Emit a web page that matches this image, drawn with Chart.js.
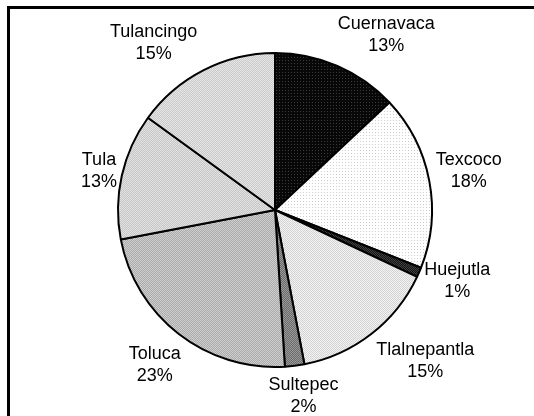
<!DOCTYPE html>
<html>
<head>
<meta charset="utf-8">
<script src="https://cdn.jsdelivr.net/npm/chart.js@4.4.1/dist/chart.umd.min.js"></script>
<style>
  html, body { margin: 0; padding: 0; background: #fff; }
  #wrap { position: relative; width: 534px; height: 416px; }
  #frame { position: absolute; left: 7px; top: 6px; right: -10px; bottom: -10px;
           border-left: 3px solid #000; border-top: 3px solid #000; }
  canvas { position: absolute; left: 0; top: 0; }
</style>
</head>
<body>
<div id="wrap">
  <div id="frame"></div>
  <canvas id="chartMunicipios" width="534" height="416"></canvas>
</div>
<script>
const municipios = ['Cuernavaca', 'Texcoco', 'Huejutla', 'Tlalnepantla', 'Sultepec', 'Toluca', 'Tula', 'Tulancingo'];
const porcentajes = [13, 18, 1, 15, 2, 23, 13, 15];

// tramas de puntos para cada rebanada: [fondo, punto, paso]
const tramas = [
    ['#080808', '#3a3a3a', 3],
    ['#ffffff', '#cfcfcf', 3],
    ['#151515', '#404040', 2],
    ['#f2f2f2', '#d4d4d4', 2],
    ['#6a6a6a', '#9a9a9a', 2],
    ['#a9a9a9', '#d0d0d0', 2],
    ['#c6c6c6', '#e2e2e2', 2],
    ['#cacaca', '#e6e6e6', 2]
];
// pequeño giro (grados) y ajuste radial (px) de algunas etiquetas
const giroEtiqueta = [9, -0.5, -2, -7, -1.5, 0, 0, -9];
const ajusteRadial = [0, -2, -6, 0, -2, 0, -5, 0];

function trama(fondo, punto, paso) {
    const c = document.createElement('canvas');
    c.width = paso; c.height = paso;
    const ctx = c.getContext('2d');
    ctx.fillStyle = fondo;
    ctx.fillRect(0, 0, paso, paso);
    ctx.fillStyle = punto;
    ctx.fillRect(0, 0, 1, 1);
    if (paso === 2) ctx.fillRect(1, 1, 1, 1);
    return ctx.createPattern(c, 'repeat');
}

const etiquetas = {
    id: 'etiquetas',
    afterDatasetsDraw(chart) {
        const ctx = chart.ctx;
        const meta = chart.getDatasetMeta(0);
        ctx.save();
        ctx.font = '18px "Liberation Sans", Arial, sans-serif';
        ctx.fillStyle = '#000';
        ctx.textAlign = 'center';
        ctx.textBaseline = 'middle';
        const lh = 22;
        meta.data.forEach((arc, i) => {
            const p = arc.getProps(['x', 'y', 'startAngle', 'endAngle', 'outerRadius'], true);
            const ang = (p.startAngle + p.endAngle) / 2 + giroEtiqueta[i] * Math.PI / 180;
            const lineas = [municipios[i], porcentajes[i] + '%'];
            const w = Math.max(...lineas.map(t => ctx.measureText(t).width));
            const h = lh * 2;
            const ux = Math.cos(ang), uy = Math.sin(ang);
            const ext = Math.abs(ux) * w / 2 + Math.abs(uy) * h / 2;
            const r = p.outerRadius + 6 + ext + ajusteRadial[i];
            const cx = p.x + ux * r, cy = p.y + uy * r;
            ctx.fillText(lineas[0], cx, cy - lh / 2);
            ctx.fillText(lineas[1], cx, cy + lh / 2);
        });
        ctx.restore();
    }
};

new Chart(document.getElementById('chartMunicipios'), {
    type: 'pie',
    data: {
        labels: municipios,
        datasets: [{
            data: porcentajes,
            backgroundColor: tramas.map(t => trama(t[0], t[1], t[2])),
            borderColor: '#000',
            borderWidth: 2
        }]
    },
    options: {
        responsive: false,
        animation: false,
        layout: { padding: { left: 117, right: 101, top: 52, bottom: 48 } },
        plugins: {
            legend: { display: false },
            tooltip: { enabled: false }
        }
    },
    plugins: [etiquetas]
});
</script>
</body>
</html>
